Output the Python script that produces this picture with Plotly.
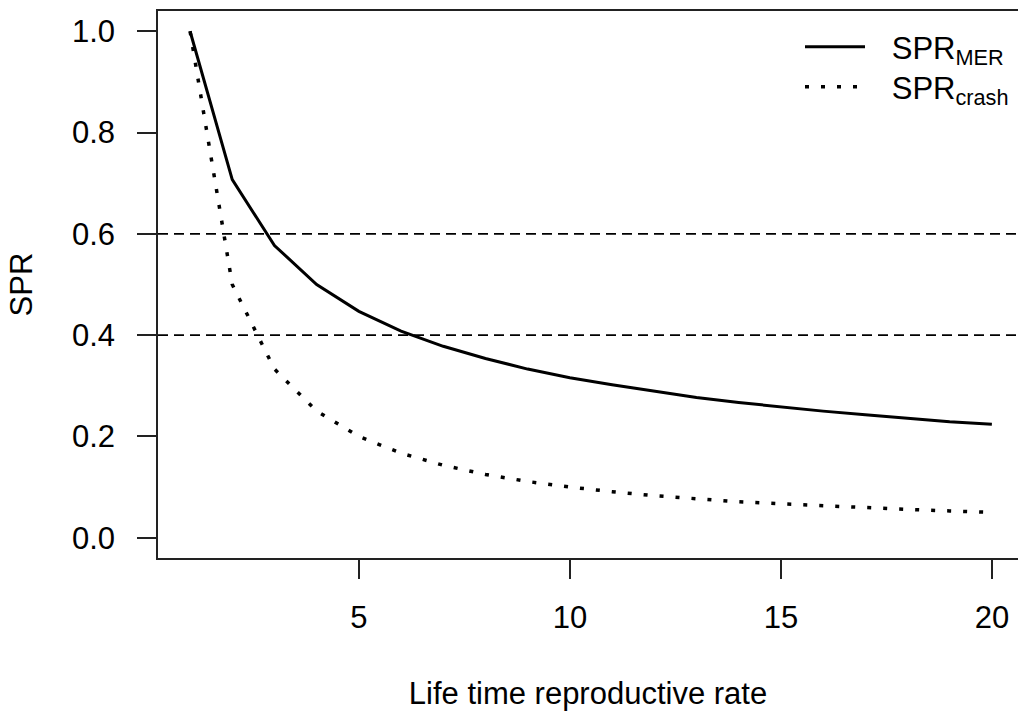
import plotly.graph_objects as go

# Data
lrr = list(range(1, 21))
spr_mer = [1.0, 0.707, 0.577, 0.5, 0.447, 0.408, 0.378, 0.354, 0.333, 0.316,
           0.302, 0.289, 0.277, 0.267, 0.258, 0.25, 0.243, 0.236, 0.229, 0.224]
spr_crash = [1.0, 0.5, 0.333, 0.25, 0.2, 0.167, 0.143, 0.125, 0.111, 0.1,
             0.091, 0.083, 0.077, 0.071, 0.067, 0.063, 0.059, 0.056, 0.053, 0.05]
ref_levels = [0.6, 0.4]
x_ticks = [5, 10, 15, 20]
y_ticks = [0.0, 0.2, 0.4, 0.6, 0.8, 1.0]
y_tick_text = ["0.0", "0.2", "0.4", "0.6", "0.8", "1.0"]

W, H = 1018, 716
ML, MR, MT, MB = 158, 0, 11, 158
FONT = "Liberation Sans, Arial, sans-serif"
FS = 31
PW = W - ML - MR
PH = H - MT - MB
GAP = "\u2009\u2002"

fig = go.Figure()
fig.add_trace(go.Scatter(x=lrr, y=spr_mer, mode="lines", name=GAP + "SPR<sub>MER</sub>",
                         line=dict(color="black", width=3), legend="legend"))
fig.add_trace(go.Scatter(x=lrr, y=spr_crash, mode="lines", name=GAP + "SPR<sub>crash</sub>",
                         line=dict(color="black", width=3.5, dash="4px,12px"),
                         legend="legend2"))

for lv in ref_levels:
    fig.add_shape(type="line", xref="paper", x0=0, x1=1, yref="y", y0=lv, y1=lv,
                  line=dict(color="black", width=1.8, dash="10px,6px"), layer="above")

leg_common = dict(xanchor="left", yanchor="top", bgcolor="rgba(0,0,0,0)", borderwidth=0,
                  font=dict(family=FONT, size=FS, color="black"), itemwidth=60)

fig.update_layout(
    width=W, height=H,
    margin=dict(l=ML, r=MR, t=MT, b=MB, pad=0),
    paper_bgcolor="white", plot_bgcolor="white",
    font=dict(family=FONT, size=FS, color="black"),
    showlegend=True,
    legend=dict(x=(800 - ML) / PW, y=1 - (20 - MT) / PH, **leg_common),
    legend2=dict(x=(800 - ML) / PW, y=1 - (60 - MT) / PH, **leg_common),
    xaxis=dict(range=[0.24, 0.24 + PW / 42.2],
               tickvals=x_ticks, ticktext=[str(v) for v in x_ticks],
               ticks="outside", ticklen=19, tickwidth=1.5, tickcolor="#222",
               showgrid=False, zeroline=False,
               showline=True, linecolor="#222", linewidth=1.5, mirror=True,
               ticklabelstandoff=12,
               title=dict(text="Life time reproductive rate", standoff=48,
                          font=dict(family=FONT, size=FS))),
    yaxis=dict(range=[-0.04, 1.04],
               tickvals=y_ticks, ticktext=y_tick_text,
               ticks="outside", ticklen=19, tickwidth=1.5, tickcolor="#222",
               showgrid=False, zeroline=False,
               showline=True, linecolor="#222", linewidth=1.5, mirror=False,
               ticklabelstandoff=16,
               title=dict(text="SPR", standoff=30,
                          font=dict(family=FONT, size=FS))),
)

fig.write_html("out.html")
